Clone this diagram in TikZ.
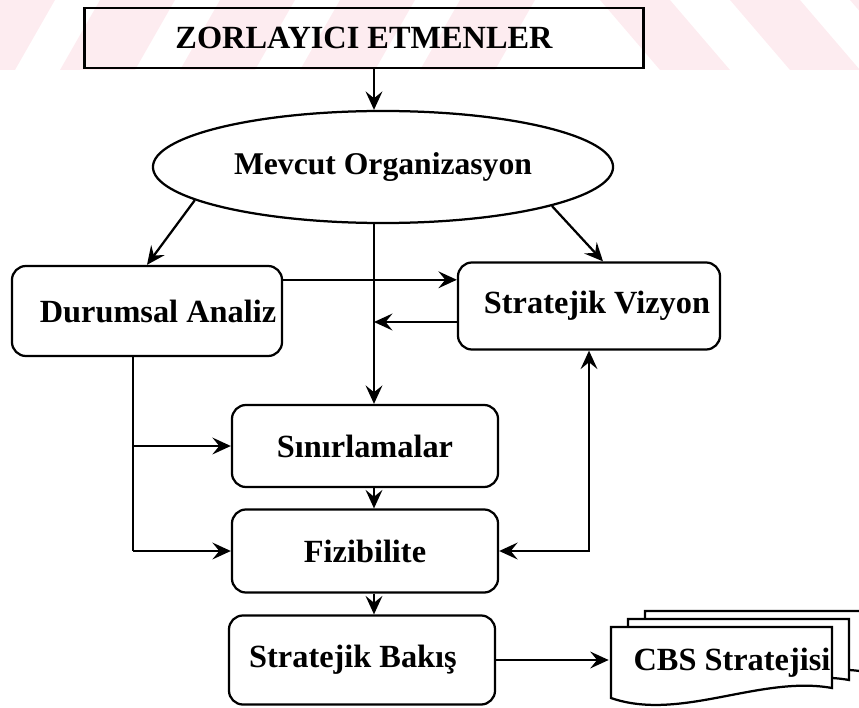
\documentclass[tikz,border=0pt]{standalone}
\usepackage{fontspec}
\setmainfont{Liberation Serif}
\usetikzlibrary{shapes.geometric,arrows.meta}
\definecolor{wmpink}{RGB}{253,236,240}
\begin{document}
\begin{tikzpicture}[x=0.025cm,y=-0.025cm,
    headbox/.style={draw,line width=1.6pt,minimum width=13.975cm,minimum height=1.5cm,font=\bfseries\fontsize{23}{27}\selectfont},
    box/.style={draw,line width=1.6pt,rounded corners=3.5mm,minimum width=6.65cm,minimum height=2.1cm,font=\bfseries\fontsize{23}{27}\selectfont},
    oval/.style={draw,ellipse,line width=1.6pt,minimum width=11.5cm,minimum height=2.8cm,font=\bfseries\fontsize{22.5}{27}\selectfont},
    docsheet/.style={draw,fill=white,line width=1.6pt},
    band/.style={fill=wmpink},
    arrow/.style={-{Stealth[length=4.6mm,width=4.2mm,inset=1.7mm]},line width=1.6pt},
    twoway/.style={{Stealth[length=4.6mm,width=4.2mm,inset=1.7mm]}-{Stealth[length=4.6mm,width=4.2mm,inset=1.7mm]},line width=1.6pt}
]
\path[use as bounding box] (0,0) rectangle (859,708);
\clip (0,0) rectangle (859,708);

% faint watermark stripes
\foreach \a in {-20,100,220,340,460}
  \fill[band] (\a,0) -- (\a+75,0) -- (\a+35,70) -- (\a-40,70) -- cycle;
\foreach \a in {600,730,850}
  \fill[band] (\a,0) -- (\a+70,0) -- (\a+130,70) -- (\a+60,70) -- cycle;

% main nodes
\node[headbox] (forces) at (364,38) {ZORLAYICI ETMENLER};
\node[oval] (org) at (383,167) {Mevcut Organizasyon};
\node[box,minimum width=6.75cm,minimum height=2.25cm] (durum) at (147,311) {\hspace*{0.55cm}Durumsal Analiz};
\node[box,minimum width=6.55cm,minimum height=2.175cm] (vizyon) at (589,306) {\hspace*{0.4cm}Stratejik Vizyon};
\node[box,minimum height=2.05cm] (sinir) at (365,446) {Sınırlamalar};
\node[box,minimum height=2.075cm] (fizib) at (365,551) {Fizibilite};
\node[box,minimum height=2.225cm] (bakis) at (362,660) {Stratejik Bakış\hspace*{0.45cm}};

% CBS document stack
\foreach \k in {2,1,0}{
  \begin{scope}[shift={(17*\k,-8*\k)}]
    \draw[docsheet] (611,627) -- (832,627) -- (832,688) .. controls (760,675) and (680,722) .. (611,698) -- cycle;
  \end{scope}
}
\node[font=\bfseries\fontsize{23}{27}\selectfont,minimum width=5.5cm,minimum height=1.8cm] (cbs) at (722,663) {\hspace*{0.5cm}CBS Stratejisi};

% connectors
\coordinate (spine) at ([xshift=-0.225cm]org.south);
\coordinate (trunk) at ([xshift=-0.35cm]durum.south);
\draw[arrow] (forces.south -| spine) -- (org.north -| spine);
\draw[arrow] (org.190) -- (durum.north);
\draw[arrow] (org.-13) -- ([xshift=0.35cm]vizyon.north);
\draw[arrow] (spine) -- (spine |- sinir.north);
\draw[arrow] ([yshift=0.78cm]durum.east) -- ([yshift=0.78cm]durum.east -| vizyon.west);
\draw[arrow] ([yshift=-0.4cm]vizyon.west) -- ([yshift=-0.4cm]vizyon.west -| spine);
\draw[line width=1.6pt] (trunk) -- (trunk |- fizib.west);
\draw[arrow] (trunk |- sinir.west) -- (sinir.west);
\draw[arrow] (trunk |- fizib.west) -- (fizib.west);
\draw[arrow] (sinir.south -| spine) -- (fizib.north -| spine);
\draw[arrow] (fizib.south -| spine) -- (bakis.north -| spine);
\draw[twoway] (fizib.east) -| (vizyon.south);
\draw[arrow] (bakis.east) -- (bakis.east -| cbs.west);
\end{tikzpicture}
\end{document}
